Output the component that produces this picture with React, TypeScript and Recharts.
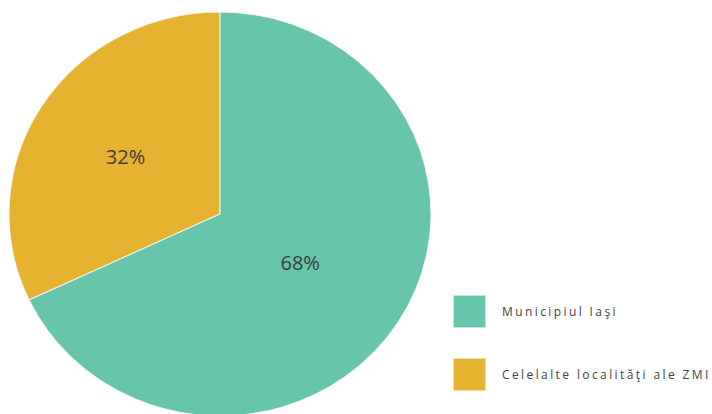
import { PieChart, Pie, Cell, Legend } from 'recharts'

const categories = ['Celelalte localităţi ale ZMI', 'Municipiul Iaşi']
const shares = [32, 68]
const colors = ['#E5B330', '#66C5AB']
const legendOrder = ['Municipiul Iaşi', 'Celelalte localităţi ale ZMI']

const data = categories.map((name, i) => ({ name, value: shares[i] }))

const RAD = Math.PI / 180
const CX = 220
const CY = 214
const R = 202
// the original pie is a touch wider than tall
const stretch = 211 / 202

function renderLabel(props: any) {
  const { cx, cy, midAngle, outerRadius, value, index } = props
  const r = outerRadius * (index === 0 ? 0.53 : 0.45)
  const x = cx + r * stretch * Math.cos(-midAngle * RAD)
  const y = cy + r * Math.sin(-midAngle * RAD)
  return (
    <text
      x={x}
      y={y}
      fill="#3d3d3d"
      fontSize={20}
      fontFamily="'Open Sans', sans-serif"
      textAnchor="middle"
      dominantBaseline="central"
    >
      {value}%
    </text>
  )
}

function LegendBox() {
  return (
    <div style={{ fontFamily: "'Open Sans', sans-serif" }}>
      {legendOrder.map((name) => {
        const i = categories.indexOf(name)
        return (
          <div key={name} style={{ display: 'flex', alignItems: 'center', height: 33, marginBottom: 30 }}>
            <div
              style={{
                width: 31,
                height: 31,
                flexShrink: 0,
                background: colors[i],
                border: '1px solid rgba(255,255,255,0.6)',
                marginRight: 16,
              }}
            />
            <span style={{ fontSize: 12, letterSpacing: 2.4, color: '#444', whiteSpace: 'nowrap' }}>{name}</span>
          </div>
        )
      })}
    </div>
  )
}

export default function App() {
  return (
    <div style={{ position: 'absolute', left: 0, top: 0, width: 712, height: 414, background: '#fff', overflow: 'hidden' }}>
      <PieChart width={712} height={414} margin={{ top: 0, right: 0, bottom: 0, left: 0 }}>
        <Pie
          data={data}
          dataKey="value"
          nameKey="name"
          cx={CX}
          cy={CY}
          outerRadius={R}
          startAngle={90}
          endAngle={450}
          stroke="#f4f4f4"
          strokeWidth={1}
          label={renderLabel}
          labelLine={false}
          isAnimationActive={false}
        >
          {data.map((d, i) => (
            <Cell
              key={d.name}
              fill={colors[i]}
              style={{ transform: `scale(${stretch}, 1)`, transformOrigin: `${CX}px ${CY}px` }}
            />
          ))}
        </Pie>
        <Legend
          content={<LegendBox />}
          layout="vertical"
          wrapperStyle={{ position: 'absolute', left: 453, top: 295, width: 300 }}
        />
      </PieChart>
    </div>
  )
}
